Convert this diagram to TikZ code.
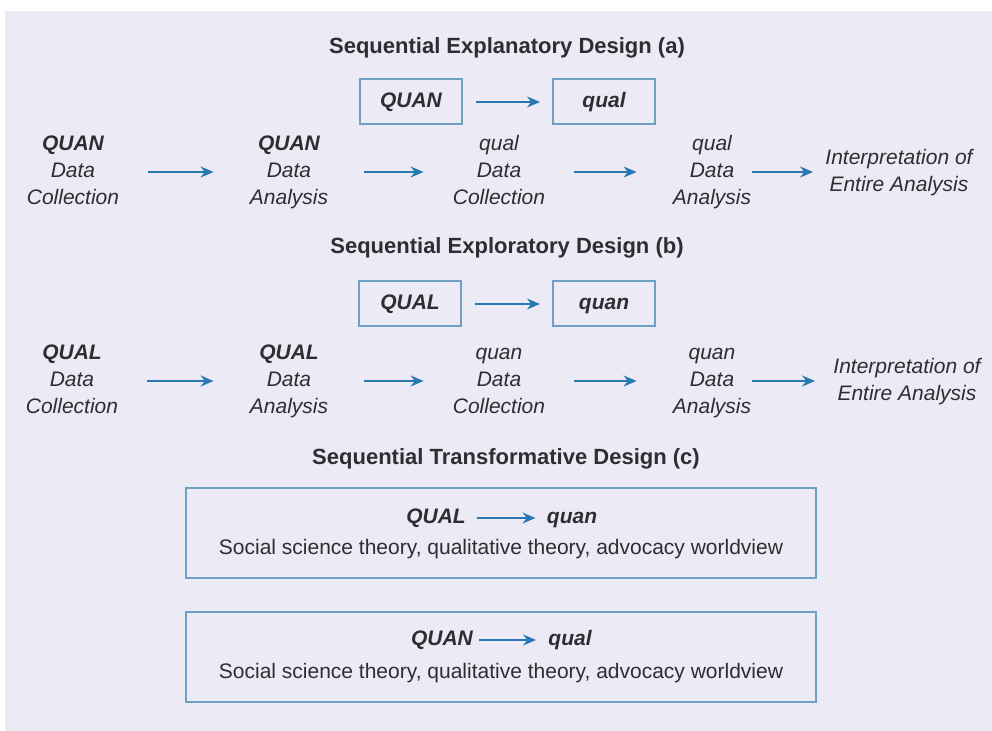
\documentclass[tikz,border=0pt]{standalone}
\usepackage{fontspec}
\setmainfont{Liberation Sans}
\usetikzlibrary{arrows.meta}
\usetikzlibrary{positioning}
\definecolor{panel}{RGB}{236,235,245}
\definecolor{boxline}{RGB}{110,160,198}
\definecolor{flowblue}{RGB}{40,120,178}
\definecolor{ink}{RGB}{45,45,50}

\begin{document}
\begin{tikzpicture}[
    x=0.5pt, y=-0.5pt, >={Stealth[length=6.5pt, width=5.5pt]},
    % text styles
    design title/.style={
        font=\fontsize{11}{13}\selectfont\bfseries,
        text=ink
    },
    phase/.style={
        align=center,
        text width=75pt,
        inner sep=0pt,
        font=\fontsize{10.5}{13.5}\selectfont\itshape,
        text=ink
    },
    interp/.style={
        align=center,
        inner sep=0pt,
        font=\fontsize{10.5}{13.5}\selectfont\itshape,
        text=ink
    },
    % box styles
    strand box/.style={
        draw=boxline,
        line width=1pt,
        fill=panel,
        minimum width=51pt,
        minimum height=22.5pt,
        inner sep=0pt,
        text height=7.6pt,
        text depth=2pt,
        font=\fontsize{10.5}{12}\selectfont\bfseries\itshape,
        text=ink
    },
    theory box/.style={
        draw=boxline,
        line width=1pt,
        minimum width=315pt,
        minimum height=45pt
    },
    strand/.style={
        inner sep=0pt,
        text height=7.6pt,
        text depth=2pt,
        font=\fontsize{10.5}{12}\selectfont\bfseries\itshape,
        text=ink
    },
    theory/.style={
        inner sep=0pt,
        font=\fontsize{10.5}{12}\selectfont,
        text=ink
    },
    % arrow style
    flow/.style={->, draw=flowblue, fill=flowblue, line width=1pt}
]

% Background panel
\useasboundingbox (0,0) rectangle (992,731);
\fill[white] (0,0) rectangle (992,731);
\fill[panel] (5,11) rectangle (992,731);

% -------------------------------
% Sequential explanatory design (a)
\node[design title] (a-title) at (507,48) {Sequential Explanatory Design (a)};
\node[strand box] (a-quan) at (411,102) {QUAN};
\node[strand box] (a-qual) at (604,102) {qual};
\draw[flow, shorten <=6.5pt, shorten >=6pt] (a-quan) -- (a-qual);

\foreach \x/\top/\bot [count=\i] in {73/\textbf{QUAN}/Collection, 289/\textbf{QUAN}/Analysis,
                                     499/qual/Collection, 712/qual/Analysis}
{
    \node[phase] (a-\i) at (\x,172) {\strut\top\\Data\\\bot\strut};
}
\node[interp] (a-int) at (899,173) {\strut Interpretation of\\Entire Analysis\strut};

\foreach \i/\j in {1/2, 2/3, 3/4}
    \draw[flow] (a-\i) -- (a-\j);
\draw[flow, shorten <=20pt, shorten >=6pt] (a-4.center) -- (a-4.center -| a-int.west);

% -------------------------------
% Sequential exploratory design (b)
\node[design title] (b-title) at (507,248) {Sequential Exploratory Design (b)};
\node[strand box] (b-qual) at (410,304) {QUAL};
\node[strand box] (b-quan) at (604,304) {quan};
\draw[flow, shorten <=6.5pt, shorten >=6pt] (b-qual) -- (b-quan);

\foreach \x/\top/\bot [count=\i] in {72/\textbf{QUAL}/Collection, 289/\textbf{QUAL}/Analysis,
                                     499/quan/Collection, 712/quan/Analysis}
{
    \node[phase] (b-\i) at (\x,381) {\strut\top\\Data\\\bot\strut};
}
\node[interp] (b-int) at (907,382) {\strut Interpretation of\\Entire Analysis\strut};

\foreach \i/\j in {1/2, 2/3, 3/4}
    \draw[flow] (b-\i) -- (b-\j);
\draw[flow, shorten <=20pt, shorten >=9pt] (b-4.center) -- (b-4.center -| b-int.west);

% -------------------------------
% Sequential transformative design (c)
\node[design title] (c-title) at (506,459) {Sequential Transformative Design (c)};

\node[theory box] (c-box1) at (501,533) {};
\node[strand] (c-qual1) at (436,518) {QUAL};
\node[strand] (c-quan1) at (572,518) {quan};
\node[theory] (c-text1) at (501,549) {Social science theory, qualitative theory, advocacy worldview};
\draw[flow, shorten <=5.5pt, shorten >=5.5pt] (c-qual1) -- (c-quan1);

\node[theory box] (c-box2) at (501,657) {};
\node[strand] (c-quan2) at (442,640) {QUAN};
\node[strand] (c-qual2) at (570,640) {qual};
\node[theory] (c-text2) at (501,673) {Social science theory, qualitative theory, advocacy worldview};
\draw[flow, shorten <=3pt, shorten >=6pt] (c-quan2) -- (c-qual2);

\end{tikzpicture}
\end{document}
